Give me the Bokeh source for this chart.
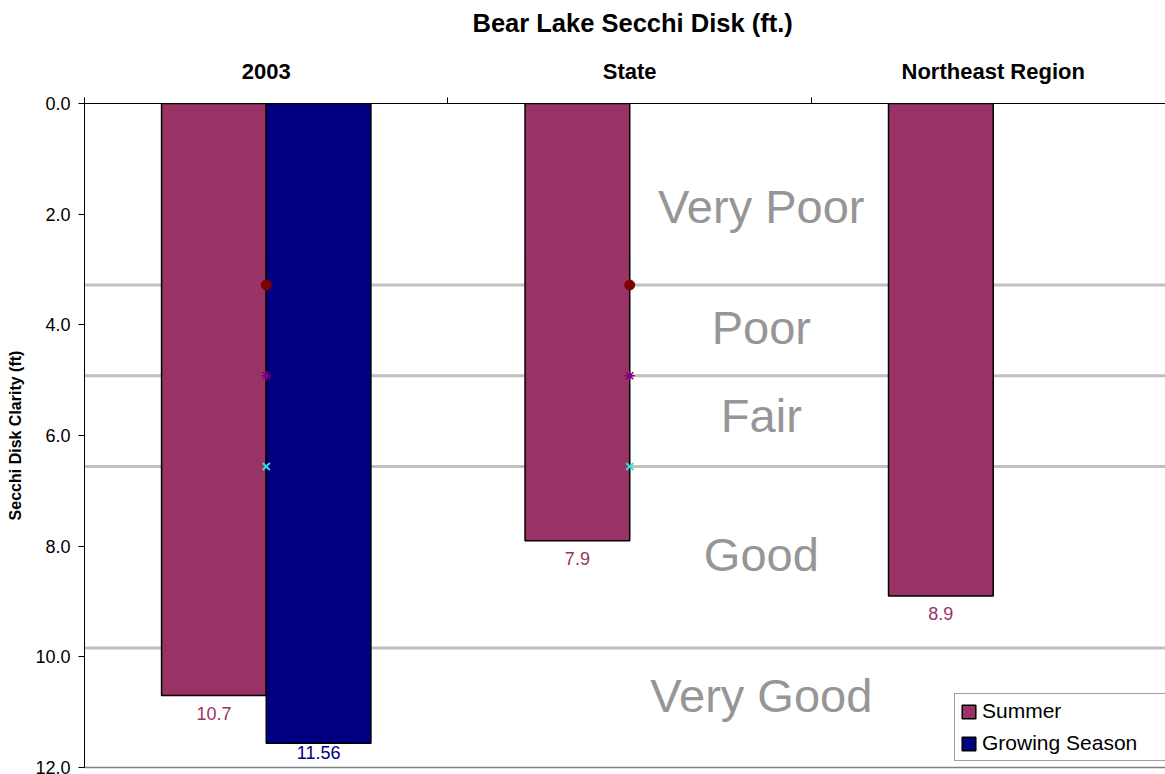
import numpy as np
from bokeh.plotting import figure
from bokeh.models import (Range1d, LinearAxis, FixedTicker, NumeralTickFormatter,
                          ColumnDataSource, Legend, LegendItem, Span)
from bokeh.core.properties import value
from bokeh.embed import file_html
from bokeh.resources import INLINE

# ---- data -------------------------------------------------------------
categories = ["2003", "State", "Northeast Region"]
summer = [10.7, 7.9, 8.9]
growing_season = [11.56, None, None]

# clarity class limits (ft): 1 m, 1.5 m, 2 m, 3 m
class_limits = [3.28, 4.92, 6.56, 9.84]
class_names = ["Very Poor", "Poor", "Fair", "Good", "Very Good"]

# limit markers shown on the 2003 and State groups
marker_groups = ["2003", "State"]
very_poor_limit = [3.28, 3.28]
poor_limit = [4.92, 4.92]
fair_limit = [6.56, 6.56]

y_ticks = [0, 2, 4, 6, 8, 10, 12]

# ---- styling / layout -------------------------------------------------
FONT = "Liberation Sans"
SUMMER_COLOR = "#993366"
GROWING_COLOR = "#000080"
BAR_W = 0.288
BAR_OFF = 0.144
Y_MAX = 12

p = figure(width=1165, height=774, output_backend="svg", toolbar_location=None,
           x_range=Range1d(0, 2.974), y_range=Range1d(Y_MAX, 0),
           x_axis_location="above",
           min_border_left=84, min_border_top=103, min_border_bottom=7,
           min_border_right=0, background_fill_color="white",
           border_fill_color="white")
p.outline_line_color = None
p.xgrid.visible = False
p.ygrid.visible = False

p.title.text = "Bear Lake Secchi Disk (ft.)"
p.title.align = "left"
p.title.offset = 388
p.title.text_font = FONT
p.title.text_font_size = "25.5px"
p.title.text_font_style = "bold"
p.title.text_color = "black"
p.title.standoff = 12

centers = np.arange(len(categories)) + 0.5

# top category axis: labels at group centres, tick marks at group edges
xa = p.xaxis[0]
xa.ticker = FixedTicker(ticks=list(centers), minor_ticks=list(range(len(categories) + 1)))
xa.major_label_overrides = {float(c): name for c, name in zip(centers, categories)}
xa.major_tick_out = 0
xa.major_tick_in = 0
xa.minor_tick_out = 6
xa.minor_tick_in = 0
xa.minor_tick_line_color = "black"
xa.axis_line_color = "black"
xa.major_label_text_font = FONT
xa.major_label_text_font_size = "22px"
xa.major_label_text_font_style = "bold"
xa.major_label_text_color = "black"
xa.major_label_standoff = 14
# blank axis label: spacer between the category names and the title
xa.axis_label = " "
xa.axis_label_text_font_size = "9px"
xa.axis_label_standoff = 0

ya = p.yaxis[0]
ya.ticker = FixedTicker(ticks=y_ticks)
ya.formatter = NumeralTickFormatter(format="0.0")
ya.major_tick_out = 6
ya.major_tick_in = 0
ya.minor_tick_line_color = None
ya.axis_line_color = "black"
ya.major_tick_line_color = "black"
ya.major_label_text_font = FONT
ya.major_label_text_font_size = "18px"
ya.major_label_text_color = "black"
ya.major_label_standoff = 8
ya.axis_label = "Secchi Disk Clarity (ft)"
ya.axis_label_text_font = FONT
ya.axis_label_text_font_size = "16px"
ya.axis_label_text_font_style = "bold"
ya.axis_label_text_color = "black"
ya.axis_label_standoff = 8

bottom = LinearAxis(ticker=FixedTicker(ticks=[]), axis_line_color="#808080",
                    axis_line_width=1.5, major_tick_out=0, major_tick_in=0,
                    minor_tick_out=0, minor_tick_in=0, major_label_standoff=0,
                    major_label_text_font_size="0px")
p.add_layout(bottom, "below")

# ---- bars ---------------------------------------------------------------
summer_src = ColumnDataSource(dict(x=centers - BAR_OFF, top=summer))
r_summer = p.vbar(x="x", top="top", bottom=0, width=BAR_W, source=summer_src,
                  fill_color=SUMMER_COLOR, line_color="black", line_width=1.5)

g_idx = [i for i, v in enumerate(growing_season) if v is not None]
growing_src = ColumnDataSource(dict(x=centers[g_idx] + BAR_OFF,
                                    top=[growing_season[i] for i in g_idx]))
r_growing = p.vbar(x="x", top="top", bottom=0, width=BAR_W, source=growing_src,
                   fill_color=GROWING_COLOR, line_color="black", line_width=1.5)

# ---- class boundary lines and limit markers -------------------------------
for lim in class_limits:
    p.add_layout(Span(location=lim, dimension="width", line_color="#c0c0c0",
                      line_width=3, level="underlay"))

marker_x = [centers[categories.index(g)] for g in marker_groups]
p.scatter(marker_x, very_poor_limit, marker="circle", size=10,
          fill_color="#800000", line_color="#800000")
p.scatter(marker_x, poor_limit, marker="asterisk", size=10,
          line_color="#800080", line_width=1.5)
p.scatter(marker_x, fair_limit, marker="x", size=10,
          line_color="#33dddd", line_width=2)

# ---- value labels under the bars (kept inside the plot area) -------------
def bar_labels(src, vals, color):
    vals = np.asarray(vals, dtype=float)
    y = np.minimum(vals + 0.32, Y_MAX - 0.28)
    lab = ColumnDataSource(dict(x=src.data["x"], y=y,
                                t=[f"{v:g}" for v in vals]))
    p.text(x="x", y="y", text="t", source=lab, text_align="center",
           text_baseline="alphabetic", text_font=value(FONT),
           text_font_size="18px", text_color=color)

bar_labels(summer_src, summer, SUMMER_COLOR)
bar_labels(growing_src, [growing_season[i] for i in g_idx], GROWING_COLOR)

# ---- clarity class names --------------------------------------------------
class_text_y = [1.87, 4.05, 5.64, 8.15, 10.70]
cls_src = ColumnDataSource(dict(x=[1.862] * len(class_names), y=class_text_y,
                                t=class_names))
p.text(x="x", y="y", text="t", source=cls_src, text_align="center",
       text_baseline="middle", text_font=value(FONT), text_font_size="47px",
       text_color="#969696")

# ---- legend ---------------------------------------------------------------
legend = Legend(items=[LegendItem(label="Summer", renderers=[r_summer]),
                       LegendItem(label="Growing Season", renderers=[r_growing])],
                location=(870, 6), orientation="vertical",
                glyph_width=17, glyph_height=17, label_standoff=5,
                label_width=200, padding=5, spacing=8, margin=0,
                label_text_font=FONT, label_text_font_size="21px",
                label_text_color="black",
                border_line_color="#404040", border_line_width=1,
                background_fill_color="white", background_fill_alpha=1)
p.add_layout(legend)

open("out.html", "w").write(file_html(p, INLINE))
